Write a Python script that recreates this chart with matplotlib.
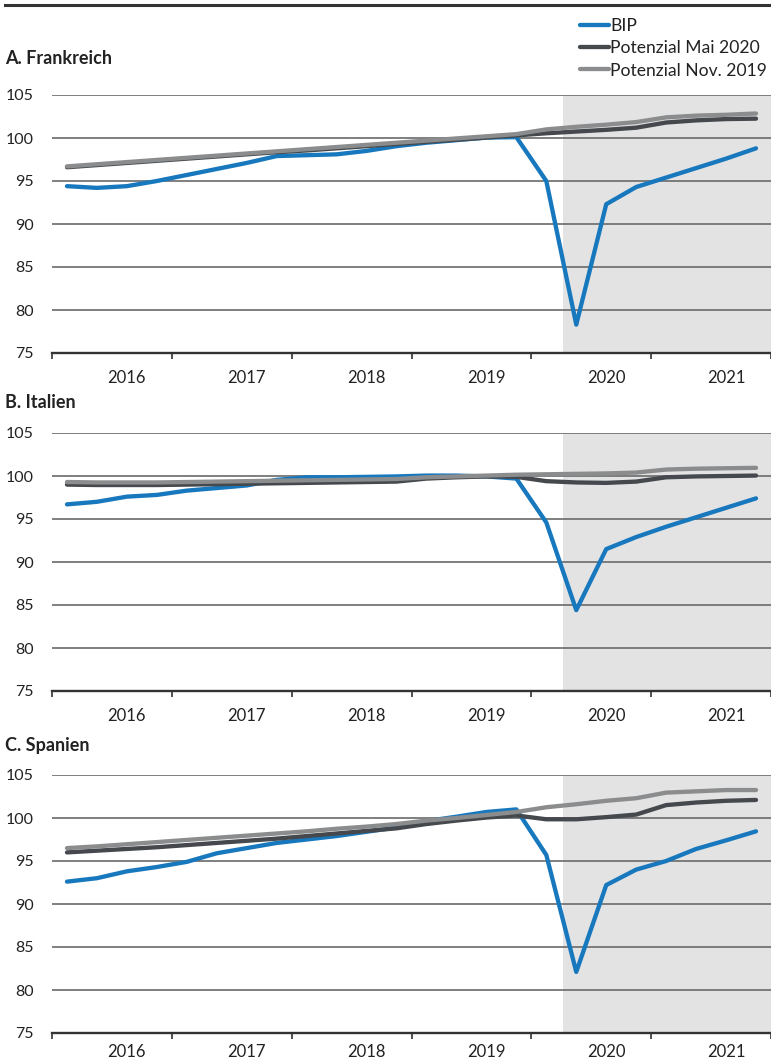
import numpy as np
import matplotlib
matplotlib.use("Agg")
import matplotlib.pyplot as plt
from matplotlib.lines import Line2D

plt.rcParams['font.family'] = ['Lato', 'DejaVu Sans']

# ---------------- data ----------------
quarters = [f"{y}Q{q}" for y in range(2016, 2022) for q in range(1, 5)]
years = ["2016", "2017", "2018", "2019", "2020", "2021"]
yticks = [75, 80, 85, 90, 95, 100, 105]
series_labels = ["BIP", "Potenzial Mai 2020", "Potenzial Nov. 2019"]
panel_titles = ["A. Frankreich", "B. Italien", "C. Spanien"]

fr_bip = [94.4, 94.2, 94.4, 95.0, 95.7, 96.4, 97.1, 97.9, 98.0, 98.1, 98.5, 99.05,
          99.45, 99.75, 100.05, 100.1, 95.0, 78.3, 92.3, 94.3, 95.4, 96.5, 97.6, 98.8]
fr_mai = [96.6, 96.85, 97.1, 97.35, 97.6, 97.85, 98.1, 98.35, 98.55, 98.8, 99.05, 99.3,
          99.55, 99.8, 100.05, 100.3, 100.55, 100.75, 100.95, 101.2, 101.8, 102.05, 102.2, 102.25]
fr_nov = [96.7, 96.95, 97.2, 97.45, 97.7, 97.95, 98.2, 98.45, 98.7, 98.95, 99.2, 99.45,
          99.7, 99.95, 100.2, 100.45, 101.0, 101.3, 101.55, 101.85, 102.4, 102.6, 102.7, 102.85]

it_bip = [96.7, 97.0, 97.6, 97.8, 98.3, 98.6, 98.9, 99.55, 99.85, 99.85, 99.9, 99.95,
          100.05, 100.05, 99.95, 99.7, 94.6, 84.4, 91.5, 92.9, 94.1, 95.2, 96.3, 97.4]
it_mai = [99.0, 98.95, 98.95, 98.95, 99.0, 99.05, 99.1, 99.15, 99.2, 99.25, 99.3, 99.35,
          99.7, 99.85, 99.95, 99.9, 99.4, 99.25, 99.2, 99.35, 99.85, 99.95, 100.0, 100.05]
it_nov = [99.3, 99.25, 99.25, 99.25, 99.3, 99.35, 99.4, 99.45, 99.5, 99.55, 99.6, 99.65,
          99.85, 99.95, 100.05, 100.15, 100.2, 100.25, 100.3, 100.4, 100.75, 100.85, 100.9, 100.95]

es_bip = [92.6, 93.0, 93.8, 94.3, 94.9, 95.9, 96.5, 97.1, 97.5, 97.9, 98.4, 98.9,
          99.65, 100.15, 100.7, 101.0, 95.7, 82.1, 92.2, 94.0, 95.0, 96.4, 97.4, 98.45]
es_mai = [96.0, 96.2, 96.4, 96.6, 96.85, 97.1, 97.35, 97.6, 97.9, 98.2, 98.5, 98.8,
          99.3, 99.7, 100.05, 100.3, 99.85, 99.85, 100.1, 100.4, 101.5, 101.8, 102.0, 102.1]
es_nov = [96.5, 96.7, 96.95, 97.2, 97.45, 97.7, 97.95, 98.2, 98.45, 98.75, 99.0, 99.3,
          99.7, 100.0, 100.35, 100.7, 101.25, 101.6, 102.0, 102.3, 102.95, 103.1, 103.25, 103.25]

panels = [(fr_bip, fr_mai, fr_nov), (it_bip, it_mai, it_nov), (es_bip, es_mai, es_nov)]

# ---------------- style ----------------
C_BIP = "#1878be"
C_MAI = "#45494d"
C_NOV = "#8a8c8d"
C_SHADE = "#e3e3e3"
C_GRID = "#6a6a6a"
C_AXIS = "#333333"
C_TEXT = "#222222"

W, H = 771, 1063
fig = plt.figure(figsize=(W / 100, H / 100), dpi=100)

panel_px = [(95, 353), (433, 691), (775, 1033)]
title_px = [58, 403, 745]
label_pad = [12, 12, 8]
x_left = 52

x = np.arange(len(quarters))
year_bounds = np.arange(len(years) + 1) * 4 - 0.5
label_pos = np.arange(len(years)) * 4 + 2.0
shade_start = quarters.index("2020Q2") - 0.45

axes = []
for i, (bip, mai, nov) in enumerate(panels):
    top, bot = panel_px[i]
    ax = fig.add_axes([x_left / W, 1 - bot / H, 1 - x_left / W, (bot - top) / H])
    axes.append(ax)
    ax.axvspan(shade_start, len(quarters) + 0.5, color=C_SHADE, lw=0, zorder=0)
    ax.plot(x, bip, color=C_BIP, lw=3.1, solid_capstyle='round', zorder=2, label=series_labels[0])
    ax.plot(x, mai, color=C_MAI, lw=3.1, solid_capstyle='round', zorder=3, label=series_labels[1])
    ax.plot(x, nov, color=C_NOV, lw=3.1, solid_capstyle='round', zorder=4, label=series_labels[2])
    ax.set_xlim(-0.5, len(quarters) - 0.5)
    ax.set_ylim(75, 105)
    ax.set_yticks(yticks)
    ax.yaxis.grid(True, color=C_GRID, lw=1.2, zorder=0.5)
    ax.set_axisbelow(True)
    for s in ["top", "right", "left"]:
        ax.spines[s].set_visible(False)
    ax.spines["bottom"].set_color(C_AXIS)
    ax.spines["bottom"].set_linewidth(1.7)
    ax.spines["bottom"].set_zorder(5)
    ax.tick_params(axis='y', length=0, pad=13, labelsize=11.5, labelcolor=C_TEXT)
    ax.set_xticks(year_bounds)
    ax.set_xticklabels([])
    ax.tick_params(axis='x', which='major', length=4.5, width=1.2, color=C_AXIS, direction='out')
    ax.set_xticks(label_pos, minor=True)
    ax.set_xticklabels(years, minor=True)
    ax.tick_params(axis='x', which='minor', length=0, pad=label_pad[i], labelsize=12,
                   labelcolor=C_TEXT)
    ax.patch.set_alpha(0)
    fig.text(5 / W, 1 - title_px[i] / H, panel_titles[i], fontsize=13, fontweight='bold',
             color=C_TEXT, va='center', ha='left')

# top rule
fig.add_artist(Line2D([5 / W, 1], [1 - 5 / H, 1 - 5 / H], color=C_AXIS, lw=2.2))

# legend (kept fully inside the figure)
handles = axes[0].get_lines()
fig.legend(handles, series_labels, loc='upper right', bbox_to_anchor=(767 / W, 1 - 18 / H),
           frameon=False, fontsize=12.6, handlelength=1.65, handletextpad=0.08,
           borderpad=0, borderaxespad=0, labelspacing=0.36, labelcolor=C_TEXT)

fig.savefig("out.png", dpi=100)
